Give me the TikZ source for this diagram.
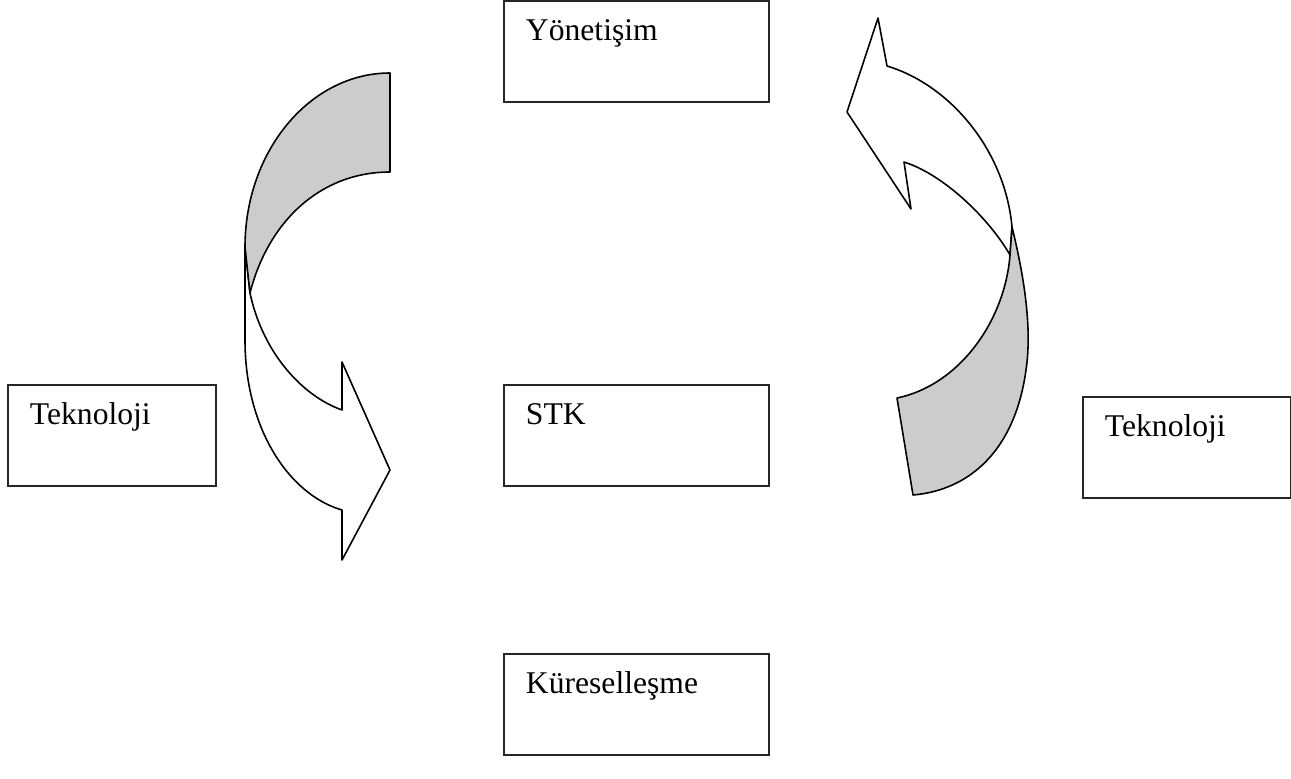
\documentclass[tikz,border=0pt]{standalone}
\usepackage{fontspec}
\setmainfont{Liberation Serif}
\usetikzlibrary{positioning}

\begin{document}
\begin{tikzpicture}[
    x=0.02cm, y=-0.02cm,
    kutu/.style={
        rectangle,
        draw=black!85,
        line width=1.1pt,
        fill=white,
        inner xsep=0.44cm,
        inner ysep=0pt,
        text width=#1,
        align=left,
        text height=0.8cm,
        text depth=1.22cm,
        font=\fontsize{18pt}{21pt}\selectfont
    },
    govde/.style={
        draw=black,
        line width=0.9pt,
        line join=round,
        fill=white
    },
    arka/.style={
        govde,
        fill=black!20
    }
]
\useasboundingbox (0,0) rectangle (1291,778);

% Nodes
\node [kutu=4.43cm, anchor=north west] (yonetisim) at (503,0) {Yönetişim};
\node [kutu=4.43cm, below=5.62cm of yonetisim] (stk) {STK};
\node [kutu=4.43cm, below=3.32cm of stk] (kuresel) {Küreselleşme};
\node [kutu=3.28cm, anchor=north west] (teknolojiSol) at (7,384) {Teknoloji};
\node [kutu=3.28cm, anchor=north west] (teknolojiSag) at (1082,396) {Teknoloji};

% Left curved arrow
\draw [govde] (245,247) -- (245,340)
    .. controls (245,430) and (290,495) .. (342,510)
    -- (342,560) -- (390,470) -- (342,362) -- (342,410)
    .. controls (300,395) and (262,350) .. (250,293) -- cycle;
\draw [arka] (390,73) .. controls (310,73) and (245,151) .. (245,247)
    -- (250,293) .. controls (268,222) and (320,172) .. (390,172) -- cycle;

% Right curved arrow
\draw [govde] (1012,227) .. controls (1005,150) and (950,85) .. (887,66)
    -- (878,18) -- (847,112) -- (911,209) -- (904,162)
    .. controls (945,175) and (990,220) .. (1010,255) -- cycle;
\draw [arka] (1012,227) .. controls (1025,280) and (1032,330) .. (1026,370)
    .. controls (1015,450) and (970,490) .. (913,495)
    -- (897,398) .. controls (960,385) and (1005,320) .. (1010,255) -- cycle;

\end{tikzpicture}
\end{document}
